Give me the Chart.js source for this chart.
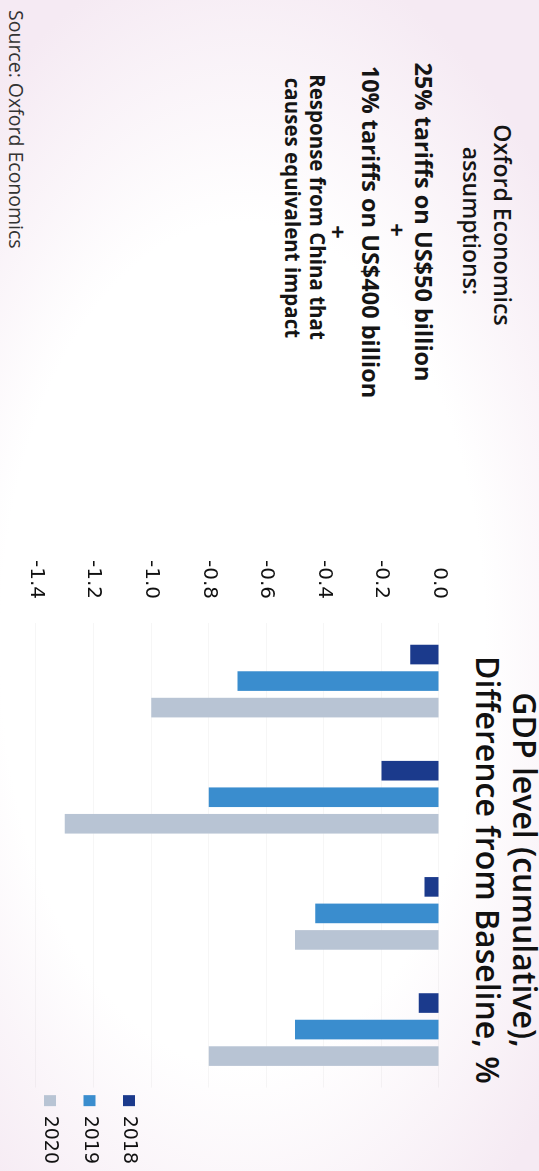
<!DOCTYPE html>
<html>
<head>
<meta charset="utf-8">
<title>GDP level (cumulative), Difference from Baseline, %</title>
<script src="https://cdn.jsdelivr.net/npm/chart.js@4.4.1/dist/chart.umd.min.js"></script>
<style>
  html, body { margin: 0; padding: 0; }
  body {
    width: 539px; height: 1171px; overflow: hidden; position: relative;
    background: radial-gradient(ellipse 75% 60% at 45% 55%, #ffffff 60%, #f5eaf3 100%);
  }
  /* the whole page is laid out landscape, then turned a quarter clockwise */
  #page {
    position: absolute; left: 0; top: 0; width: 1171px; height: 539px;
    transform-origin: 0 0; transform: translateX(539px) rotate(90deg);
  }
  .note {
    position: absolute; width: 440px; height: 30px; line-height: 30px;
    text-align: center; white-space: nowrap; color: #151515;
    font-family: "Open Sans", sans-serif; font-weight: 700; font-size: 23.5px;
  }
  .note.head { font-weight: 600; font-size: 23px; }
  .note.small { font-size: 20.5px; }
  #title {
    position: absolute; left: 570px; top: -5.5px; width: 600px;
    text-align: center; white-space: nowrap; color: #111;
    font-family: "Open Sans", sans-serif; font-weight: 600; font-size: 32px; line-height: 37px;
  }
  #source {
    position: absolute; left: 10px; top: 508px; height: 30px; line-height: 30px;
    font-family: "Open Sans", sans-serif; font-size: 19.5px; color: #333; white-space: nowrap;
  }
  #gdpChart { position: absolute; left: 540px; top: 0; }
</style>
</head>
<body>
<div id="page">
  <div class="note head" style="left:5px; top:21px">Oxford Economics</div>
  <div class="note head" style="left:1px; top:52px">assumptions:</div>
  <div class="note" style="left:2px; top:100px">25% tariffs on US$50 billion</div>
  <div class="note" style="left:10px; top:126.5px">+</div>
  <div class="note" style="left:12px; top:153px">10% tariffs on US$400 billion</div>
  <div class="note" style="left:12px; top:185.5px">+</div>
  <div class="note small" style="left:-13px; top:206px">Response from China that</div>
  <div class="note small" style="left:-12px; top:231px">causes equivalent impact</div>

  <div id="title">GDP level (cumulative),<br>Difference from Baseline, %</div>

  <canvas id="gdpChart" width="647" height="539"></canvas>

  <div id="source">Source: Oxford Economics</div>
</div>

<script>
// values (cumulative GDP level, % difference from baseline)
const categories = ['Group 1', 'Group 2', 'Group 3', 'Group 4'];
const years = ['2018', '2019', '2020'];
const gdp2018 = [-0.10, -0.20, -0.05, -0.07];
const gdp2019 = [-0.70, -0.80, -0.43, -0.50];
const gdp2020 = [-1.00, -1.30, -0.50, -0.80];
const axisMin = -1.4;
const axisMax = 0;
const axisStep = 0.2;

const yearColors = ['#1b3a8c', '#3a8dce', '#b8c4d4'];

// legend sits a bit closer to the bars than Chart.js puts it
const legendNudge = {
    id: 'legendNudge',
    afterLayout(chart) {
        const lg = chart.legend;
        lg.left -= 13; lg.right -= 13;
        lg.top += 9.5; lg.bottom += 9.5;
    }
};

const ctx = document.getElementById('gdpChart').getContext('2d');
const gdpChart = new Chart(ctx, {
    type: 'bar',
    data: {
        labels: categories,
        datasets: [gdp2018, gdp2019, gdp2020].map((values, i) => ({
            label: years[i],
            data: values,
            backgroundColor: yearColors[i],
            borderWidth: 0,
            barPercentage: 0.74,
            categoryPercentage: 0.685
        }))
    },
    options: {
        responsive: false,
        animation: false,
        layout: { padding: { top: 100, bottom: 29.5, left: 0, right: 0 } },
        scales: {
            x: { display: false },
            y: {
                min: axisMin,
                max: axisMax,
                ticks: {
                    stepSize: axisStep,
                    padding: 24,
                    color: '#111',
                    font: { family: 'DejaVu Sans', size: 20 },
                    callback: v => v.toFixed(1)
                },
                grid: { color: 'rgba(0,0,0,0.035)', drawTicks: false },
                border: { display: false },
                afterFit: scale => { scale.width = 83; }
            }
        },
        plugins: {
            legend: {
                position: 'right',
                align: 'end',
                labels: {
                    boxWidth: 11,
                    boxHeight: 12,
                    padding: 20.5,
                    color: '#111',
                    font: { family: 'DejaVu Sans', size: 19 }
                }
            },
            tooltip: { enabled: false }
        }
    },
    plugins: [legendNudge]
});
</script>
</body>
</html>
